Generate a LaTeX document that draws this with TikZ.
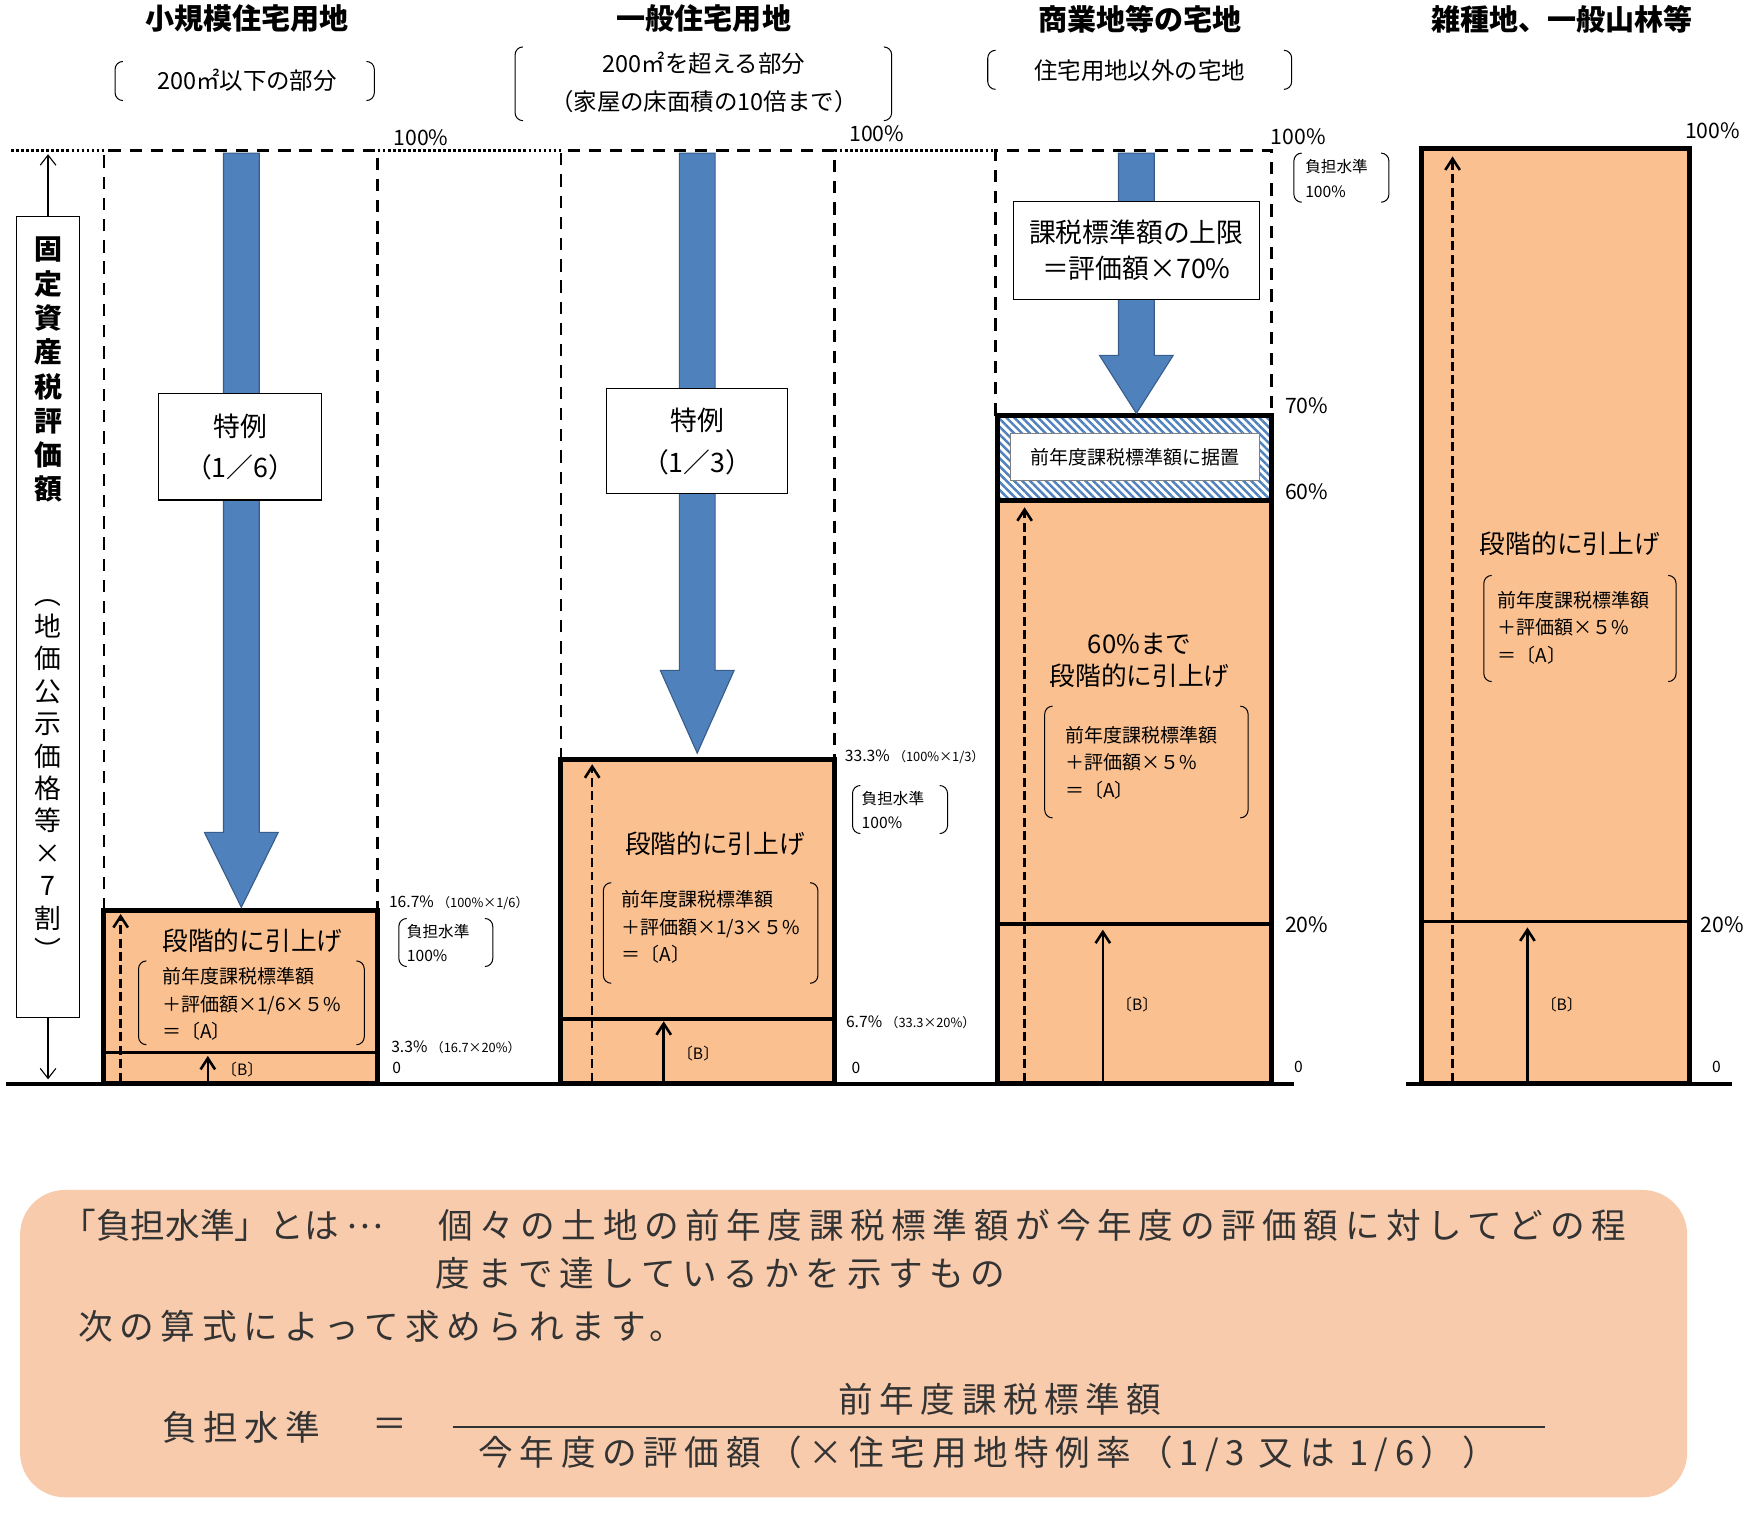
\documentclass[tikz,border=0pt]{standalone}
\usepackage{fontspec}
\setmainfont{Noto Sans CJK JP}
\newfontfamily\panelfont{Noto Sans CJK JP}[LetterSpace=19]
\usetikzlibrary{arrows.meta,patterns.meta}
\definecolor{peach}{HTML}{FAC090}
\definecolor{panel}{HTML}{F8CBAD}
\definecolor{arrowblue}{HTML}{4F81BD}
\definecolor{arrowedge}{HTML}{385D8A}
\definecolor{inktext}{HTML}{333333}
\tikzset{
  title/.style={font=\bfseries\fontsize{26}{30}\selectfont},
  sub/.style={font=\fontsize{21}{26}\selectfont},
  pct/.style={font=\fontsize{19}{22}\selectfont, anchor=west, inner sep=0pt},
  small/.style={font=\fontsize{14}{17}\selectfont, anchor=west, inner sep=0pt},
  tiny/.style={font=\fontsize{14}{22}\selectfont, anchor=west, inner sep=0pt, align=left},
  calc/.style={font=\fontsize{17}{24.5}\selectfont, anchor=north west, inner sep=0pt, align=left},
  raise/.style={font=\fontsize{23}{28}\selectfont},
  band/.style={draw=black, line width=4.5pt, fill=peach},
  dashbox/.style={draw=black, line width=2.5pt, dash pattern=on 11pt off 8pt},
  rise/.style={-{Straight Barb[length=10pt,width=13pt]}, line width=2.3pt},
  risedash/.style={rise, dash pattern=on 8pt off 4pt},
  tag/.style={draw=black, fill=white, line width=1pt, align=center, inner sep=0pt},
  ptext/.style={font=\panelfont\fontsize{31}{38}\selectfont, text=inktext, anchor=west, inner sep=0pt},
}
% rounded bracket pair: left x, right x, top y, bottom y
\newcommand{\parenpair}[4]{%
  \draw[line width=0.9pt, rounded corners=7pt] (#1+7,#3) -- (#1,#3) -- (#1,#4) -- (#1+7,#4);
  \draw[line width=0.9pt, rounded corners=7pt] (#2-7,#3) -- (#2,#3) -- (#2,#4) -- (#2-7,#4);
}
% big blue arrow: centre x, top, head start, tip
\newcommand{\bluearrow}[4]{%
  \filldraw[fill=arrowblue, draw=arrowedge, line width=1pt]
    (#1-16,#2) -- (#1+16,#2) -- (#1+16,#3) -- (#1+33,#3) -- (#1,#4)
    -- (#1-33,#3) -- (#1-16,#3) -- cycle;
}
\begin{document}
\begin{tikzpicture}[x=1pt,y=-1pt]
  \useasboundingbox (0,0) rectangle (1568,1354);

  % headings
  \node[title] (t1) at (221,17) {小規模住宅用地};
  \node[title] (t2) at (630,17) {一般住宅用地};
  \node[title] (t3) at (1020,17) {商業地等の宅地};
  \node[title] (t4) at (1398,17) {雑種地、一般山林等};
  \node[sub] (s1) at (221,72) {200㎡以下の部分};
  \parenpair{103}{335}{55}{90}
  \node[sub] (s2a) at (630,57) {200㎡を超える部分};
  \node[sub] (s2b) at (630,91) {（家屋の床面積の10倍まで）};
  \parenpair{461}{798}{42}{108}
  \node[sub] (s3) at (1020,63) {住宅用地以外の宅地};
  \parenpair{884}{1156}{45}{80}

  % value axis
  \coordinate (axtop) at (43,138);
  \coordinate (axbot) at (43,966);
  \draw[{Straight Barb[length=9pt,width=14pt]}-{Straight Barb[length=9pt,width=14pt]}, line width=1pt] (axtop) -- (axbot);
  \node[draw, fill=white, line width=1.2pt, minimum width=56pt, minimum height=717pt, anchor=north, inner sep=0pt] (axbox) at (43,193) {};
  \node[font=\bfseries\fontsize{25}{30.7}\selectfont, align=center, anchor=north, inner sep=0pt] (axname) at (43,212) {固\\定\\資\\産\\税\\評\\価\\額};
  \node[font=\fontsize{24}{29}\selectfont, align=center, anchor=north, inner sep=0pt] (axnote) at (43,536) {︵\\地\\価\\公\\示\\価\\格\\等\\×\\7\\割\\︶};

  % 100% level
  \draw[line width=2.5pt, dotted] (10,135) -- (93,135);
  \draw[line width=2.5pt, dotted] (338,135) -- (502,135);
  \draw[line width=2.5pt, dotted] (747,135) -- (891,135);
  \draw[dashbox] (93,815) -- (93,135) -- (338,135) -- (338,815);
  \draw[dashbox] (502,680) -- (502,135) -- (747,135) -- (747,680);
  \draw[dashbox] (891,372) -- (891,135) -- (1138,135) -- (1138,372);

  % column 1
  \draw[band] (93,815) rectangle (338,970);
  \draw[line width=3pt] (93,942) -- (338,942);
  \node[raise] (r1) at (226,842) {段階的に引上げ};
  \parenpair{124}{326}{860}{935}
  \node[calc] (a1) at (145,866) {前年度課税標準額\\＋評価額×1/6×５\%\\＝〔A〕};
  \coordinate (b1foot) at (186,968);
  \coordinate (b1top) at (186,945);
  \draw[rise] (b1foot) -- (b1top);
  \node[small] (b1) at (198,957) {〔B〕};
  \coordinate (d1foot) at (108,968);
  \coordinate (d1top) at (108,818);
  \draw[risedash] (d1foot) -- (d1top);
  \bluearrow{216}{137}{745}{812}
  \node[tag, minimum width=146pt, minimum height=95pt, font=\fontsize{24}{37}\selectfont] (sp1) at (215,400) {特例\\（1／6）};
  \node[pct] (p1) at (352,123) {100\%};
  \node[small] (v1a) at (348,808) {16.7\% {\fontsize{11.5}{13}\selectfont （100\%×1/6）}};
  \parenpair{357}{441}{822}{865}
  \node[tiny] (l1) at (364,844) {負担水準\\100\%};
  \node[small] (v1b) at (350,937) {3.3\% {\fontsize{11.5}{13}\selectfont （16.7×20\%）}};
  \node[small] (z1) at (351,956) {0};

  % column 2
  \draw[band] (502,680) rectangle (747,970);
  \draw[line width=3pt] (502,912) -- (747,912);
  \node[raise] (r2) at (640,755) {段階的に引上げ};
  \parenpair{540}{732}{790}{880}
  \node[calc] (a2) at (556,797) {前年度課税標準額\\＋評価額×1/3×５\%\\＝〔A〕};
  \coordinate (b2foot) at (594,968);
  \coordinate (b2top) at (594,914);
  \draw[rise] (b2foot) -- (b2top);
  \node[small] (b2) at (606,943) {〔B〕};
  \coordinate (d2foot) at (530,968);
  \coordinate (d2top) at (530,684);
  \draw[risedash] (d2foot) -- (d2top);
  \bluearrow{624}{137}{600}{674}
  \node[tag, minimum width=162pt, minimum height=94pt, font=\fontsize{24}{37}\selectfont] (sp2) at (624,395) {特例\\（1／3）};
  \node[pct] (p2) at (760,120) {100\%};
  \node[small] (v2a) at (756,677) {33.3\% {\fontsize{11.5}{13}\selectfont （100\%×1/3）}};
  \parenpair{763}{848}{703}{746}
  \node[tiny] (l2) at (771,725) {負担水準\\100\%};
  \node[small] (v2b) at (757,915) {6.7\% {\fontsize{11.5}{13}\selectfont （33.3×20\%）}};
  \node[small] (z2) at (762,956) {0};

  % column 3
  \fill[peach] (893,448) rectangle (1138,970);
  \fill[white] (893,372) rectangle (1138,448);
  \fill[pattern={Lines[angle=-45,distance=5pt,line width=2.2pt]}, pattern color=arrowblue] (895,374) rectangle (1136,446);
  \draw[line width=4.5pt] (893,372) rectangle (1138,970);
  \draw[line width=4.5pt] (893,448) -- (1138,448);
  \draw[line width=3pt] (893,827) -- (1138,827);
  \node[draw=gray, fill=white, line width=1pt, minimum width=223pt, minimum height=42pt, inner sep=0pt, font=\fontsize{17}{20}\selectfont] (keep) at (1016,409) {前年度課税標準額に据置};
  \node[raise, align=center] (r3) at (1020,591) {60\%まで\\段階的に引上げ};
  \parenpair{935}{1117}{632}{732}
  \node[calc] (a3) at (953,650) {前年度課税標準額\\＋評価額×５\%\\＝〔A〕};
  \coordinate (b3foot) at (987,968);
  \coordinate (b3top) at (987,832);
  \draw[rise] (b3foot) -- (b3top);
  \node[small] (b3) at (999,899) {〔B〕};
  \coordinate (d3foot) at (917,968);
  \coordinate (d3top) at (917,454);
  \draw[risedash] (d3foot) -- (d3top);
  \bluearrow{1017}{137}{318}{370}
  \node[tag, minimum width=220pt, minimum height=88pt, font=\fontsize{24}{33}\selectfont] (cap) at (1017,224) {課税標準額の上限\\＝評価額×70\%};
  \node[pct] (p3) at (1137,122) {100\%};
  \parenpair{1158}{1243}{137}{181}
  \node[tiny] (l3) at (1168,160) {負担水準\\100\%};
  \node[pct] (p70) at (1150,363) {70\%};
  \node[pct] (p60) at (1150,440) {60\%};
  \node[pct] (p20) at (1150,828) {20\%};
  \node[small] (z3) at (1158,955) {0};

  % column 4
  \draw[band] (1272,133) rectangle (1512,970);
  \draw[line width=3pt] (1272,825) -- (1512,825);
  \node[raise] (r4) at (1405,487) {段階的に引上げ};
  \parenpair{1328}{1500}{515}{610}
  \node[calc] (a4) at (1340,529) {前年度課税標準額\\＋評価額×５\%\\＝〔A〕};
  \coordinate (b4foot) at (1367,968);
  \coordinate (b4top) at (1367,830);
  \draw[rise] (b4foot) -- (b4top);
  \node[small] (b4) at (1379,899) {〔B〕};
  \coordinate (d4foot) at (1300,968);
  \coordinate (d4top) at (1300,140);
  \draw[risedash] (d4foot) -- (d4top);
  \node[pct] (p4) at (1508,117) {100\%};
  \node[pct] (p4b) at (1522,828) {20\%};
  \node[small] (z4) at (1532,955) {0};

  % ground lines
  \draw[line width=3pt] (5,970) -- (1158,970);
  \draw[line width=3pt] (1258,970) -- (1550,970);

  % explanation panel
  \fill[panel, rounded corners=40pt] (18,1065) rectangle (1510,1340);
  \node[ptext, font=\fontsize{31}{38}\selectfont] (def) at (55,1097) {「負担水準」とは \raisebox{0.3em}{…}};
  \node[ptext] (def1) at (392,1097) {個々の土地の前年度課税標準額が今年度の評価額に対してどの程};
  \node[ptext] (def2) at (390,1140) {度まで達しているかを示すもの};
  \node[ptext] (def3) at (70,1187) {次の算式によって求められます。};
  \node[ptext] (lhs) at (145,1277) {負担水準};
  \node[ptext] (eq) at (333,1277) {＝};
  \coordinate (barl) at (405,1277);
  \coordinate (barr) at (1383,1277);
  \draw[line width=1.5pt, inktext] (barl) -- (barr);
  \node[ptext, anchor=center] (num) at (895,1252) {前年度課税標準額};
  \node[ptext, anchor=center] (den) at (884,1301) {今年度の評価額（×住宅用地特例率（1/3 又は 1/6））};
\end{tikzpicture}
\end{document}
